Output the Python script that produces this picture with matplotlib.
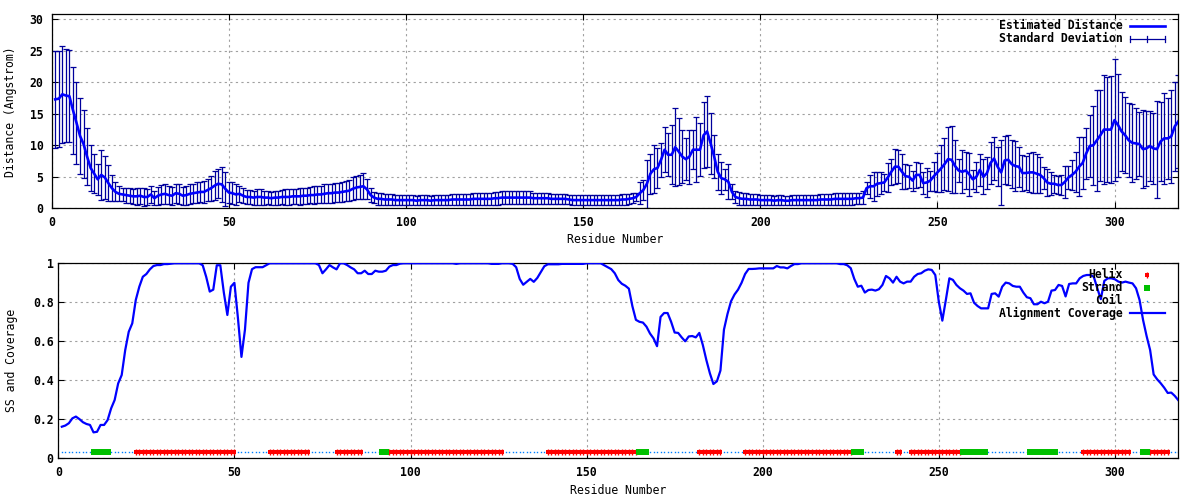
import numpy as np
import matplotlib
matplotlib.use("Agg")
import matplotlib.pyplot as plt

plt.rcParams['font.family'] = ['DejaVu Sans Mono']
plt.rcParams['font.weight'] = 'bold'
plt.rcParams['font.size'] = 8.3

# ---------------- data ----------------
distance_mean = [
    17.3, 17.4, 18.1, 17.9, 17.8, 15.6, 13.6, 11.5, 10.2, 8.2,
    6.4, 5.5, 4.6, 5.3, 4.9, 4.0, 3.2, 2.6, 2.3, 2.2,
    2.1, 2.0, 1.9, 1.9, 2.0, 1.8, 1.8, 2.2, 1.6, 2.0,
    2.2, 2.3, 2.1, 2.0, 2.4, 2.3, 2.0, 2.1, 2.3, 2.4,
    2.5, 2.6, 2.6, 2.9, 3.2, 3.6, 3.9, 3.8, 3.1, 2.5,
    2.4, 2.2, 2.3, 2.0, 1.8, 1.8, 1.7, 1.8, 1.8, 1.7,
    1.7, 1.6, 1.7, 1.7, 1.8, 1.8, 1.8, 1.9, 1.9, 1.9,
    2.0, 2.0, 2.1, 2.1, 2.2, 2.2, 2.3, 2.4, 2.4, 2.5,
    2.5, 2.6, 2.7, 2.8, 3.1, 3.3, 3.4, 3.5, 3.0, 2.1,
    1.7, 1.5, 1.5, 1.4, 1.4, 1.4, 1.3, 1.3, 1.3, 1.3,
    1.3, 1.3, 1.2, 1.3, 1.3, 1.3, 1.2, 1.3, 1.3, 1.3,
    1.3, 1.3, 1.4, 1.4, 1.4, 1.4, 1.4, 1.4, 1.5, 1.5,
    1.5, 1.5, 1.5, 1.5, 1.6, 1.6, 1.7, 1.7, 1.7, 1.7,
    1.7, 1.7, 1.7, 1.7, 1.7, 1.6, 1.6, 1.6, 1.6, 1.6,
    1.5, 1.5, 1.5, 1.5, 1.5, 1.4, 1.3, 1.3, 1.3, 1.3,
    1.3, 1.3, 1.3, 1.3, 1.3, 1.3, 1.3, 1.3, 1.3, 1.3,
    1.4, 1.4, 1.5, 1.6, 1.8, 2.4, 2.9, 3.9, 5.5, 6.2,
    6.4, 7.7, 9.3, 8.5, 8.5, 9.7, 9.0, 8.2, 7.8, 8.2,
    9.3, 9.3, 9.3, 11.6, 12.2, 10.3, 8.2, 5.8, 4.8, 4.6,
    4.2, 2.6, 1.8, 1.6, 1.5, 1.5, 1.4, 1.4, 1.4, 1.3,
    1.3, 1.3, 1.3, 1.2, 1.3, 1.3, 1.2, 1.2, 1.3, 1.3,
    1.3, 1.3, 1.3, 1.3, 1.3, 1.3, 1.4, 1.4, 1.4, 1.4,
    1.5, 1.5, 1.5, 1.5, 1.5, 1.5, 1.6, 1.6, 1.7, 3.2,
    3.5, 3.5, 3.9, 4.0, 4.1, 4.9, 5.8, 6.6, 6.6, 5.8,
    5.1, 5.0, 4.4, 5.3, 5.3, 4.0, 4.1, 4.4, 5.1, 5.7,
    6.3, 7.0, 7.8, 7.7, 6.7, 6.0, 5.8, 6.0, 5.4, 4.6,
    5.0, 6.1, 5.0, 5.6, 7.2, 7.9, 6.6, 5.7, 7.6, 7.7,
    7.0, 6.7, 6.6, 5.6, 5.6, 5.7, 5.7, 5.5, 5.3, 4.8,
    4.1, 3.9, 3.9, 3.7, 3.7, 4.2, 4.9, 5.3, 5.8, 6.6,
    7.2, 8.7, 9.9, 10.0, 10.8, 11.6, 12.5, 12.5, 12.5, 14.0,
    13.2, 12.2, 11.6, 10.8, 10.4, 10.3, 10.2, 9.4, 9.5, 9.9,
    9.5, 9.4, 10.6, 11.1, 11.1, 11.4, 13.0, 13.8,
]

distance_std = [
    7.7, 7.6, 7.7, 7.4, 7.3, 6.9, 6.5, 6.0, 5.4, 4.5,
    3.7, 3.1, 2.5, 4.0, 3.4, 2.9, 2.1, 1.5, 1.2, 1.1,
    1.2, 1.2, 1.2, 1.3, 1.3, 1.4, 1.3, 1.3, 1.1, 1.4,
    1.5, 1.6, 1.4, 1.4, 1.5, 1.6, 1.4, 1.5, 1.6, 1.5,
    1.6, 1.6, 1.7, 1.8, 2.0, 2.3, 2.3, 2.8, 2.7, 1.6,
    1.7, 1.6, 1.3, 1.2, 1.1, 1.1, 1.1, 1.2, 1.2, 1.1,
    1.0, 1.0, 1.1, 1.1, 1.1, 1.2, 1.2, 1.2, 1.2, 1.3,
    1.3, 1.3, 1.3, 1.4, 1.4, 1.4, 1.5, 1.5, 1.5, 1.5,
    1.5, 1.6, 1.6, 1.7, 1.8, 1.9, 1.9, 2.1, 1.6, 1.1,
    0.9, 0.9, 0.9, 0.85, 0.85, 0.8, 0.8, 0.8, 0.8, 0.8,
    0.75, 0.75, 0.7, 0.75, 0.75, 0.75, 0.7, 0.75, 0.75, 0.75,
    0.75, 0.75, 0.8, 0.8, 0.8, 0.8, 0.85, 0.85, 0.9, 0.9,
    0.9, 0.9, 0.9, 0.9, 1.0, 1.0, 1.0, 1.0, 1.0, 1.0,
    1.0, 1.0, 1.0, 1.0, 1.0, 0.9, 0.9, 0.9, 0.9, 0.9,
    0.8, 0.8, 0.8, 0.8, 0.8, 0.75, 0.75, 0.75, 0.75, 0.75,
    0.75, 0.75, 0.75, 0.75, 0.75, 0.75, 0.75, 0.75, 0.75, 0.75,
    0.8, 0.8, 0.8, 0.8, 0.7, 1.7, 1.6, 3.8, 3.2, 3.8,
    3.1, 2.7, 3.6, 3.4, 4.7, 6.2, 5.3, 4.2, 3.3, 4.3,
    3.1, 5.2, 4.2, 5.2, 5.7, 4.8, 3.4, 2.9, 2.6, 1.7,
    2.8, 1.2, 0.9, 1.0, 0.9, 0.9, 0.9, 0.85, 0.85, 0.8,
    0.8, 0.8, 0.8, 0.75, 0.8, 0.8, 0.75, 0.75, 0.8, 0.8,
    0.8, 0.8, 0.8, 0.8, 0.8, 0.8, 0.85, 0.85, 0.85, 0.85,
    0.9, 0.9, 0.9, 0.9, 0.9, 0.9, 0.9, 0.9, 1.0, 1.0,
    1.8, 2.3, 1.9, 1.8, 1.3, 2.3, 2.1, 2.8, 2.6, 2.8,
    2.0, 1.8, 1.6, 2.1, 1.9, 1.7, 2.3, 1.6, 2.3, 3.1,
    3.7, 4.1, 5.1, 5.3, 4.2, 1.9, 3.4, 3.0, 3.4, 1.5,
    2.4, 2.6, 2.8, 2.5, 3.4, 3.4, 3.1, 5.1, 3.8, 4.0,
    3.8, 4.0, 3.2, 2.9, 2.7, 3.1, 3.3, 3.1, 2.8, 1.8,
    2.2, 1.8, 1.4, 1.4, 1.6, 2.5, 1.8, 2.4, 3.2, 4.7,
    4.1, 4.0, 4.9, 6.3, 8.0, 7.2, 8.7, 8.4, 8.5, 9.7,
    8.2, 6.3, 6.0, 5.9, 6.2, 5.7, 5.1, 6.2, 6.0, 5.6,
    5.6, 7.7, 6.3, 7.2, 6.4, 7.4, 7.1, 7.4,
]

coverage = [
    0.162, 0.168, 0.180, 0.205, 0.214, 0.201, 0.185, 0.176, 0.171, 0.133,
    0.136, 0.171, 0.171, 0.196, 0.256, 0.299, 0.384, 0.427, 0.555, 0.649,
    0.692, 0.812, 0.880, 0.931, 0.945, 0.969, 0.986, 0.991, 0.991, 0.996,
    0.996, 0.998, 1.0, 1.0, 1.0, 1.0, 1.0, 1.0, 1.0, 1.0,
    0.99, 0.93, 0.855, 0.865, 0.99, 0.99, 0.85, 0.735, 0.88, 0.90,
    0.72, 0.52, 0.66, 0.90, 0.97, 0.98, 0.98, 0.98, 0.99, 1.0,
    1.0, 1.0, 1.0, 1.0, 1.0, 1.0, 1.0, 1.0, 1.0, 1.0,
    1.0, 1.0, 1.0, 0.991, 0.949, 0.969, 0.991, 0.979, 0.969, 1.0,
    1.0, 0.991, 0.979, 0.969, 0.949, 0.949, 0.962, 0.945, 0.945, 0.962,
    0.957, 0.957, 0.962, 0.983, 0.991, 0.991, 0.998, 1.0, 1.0, 1.0,
    1.0, 1.0, 1.0, 1.0, 1.0, 1.0, 1.0, 1.0, 1.0, 1.0,
    1.0, 1.0, 0.997, 1.0, 1.0, 1.0, 1.0, 1.0, 1.0, 1.0,
    1.0, 1.0, 0.997, 0.997, 0.997, 1.0, 1.0, 1.0, 0.997, 0.98,
    0.92, 0.89, 0.905, 0.92, 0.905, 0.925, 0.955, 0.985, 0.995, 0.995,
    0.995, 0.995, 0.997, 0.997, 0.997, 0.997, 0.997, 0.997, 0.997, 1.0,
    1.0, 1.0, 1.0, 1.0, 0.99, 0.98, 0.97, 0.949, 0.914, 0.895,
    0.885, 0.870, 0.78, 0.71, 0.70, 0.696, 0.675, 0.64, 0.615, 0.575,
    0.725, 0.745, 0.745, 0.70, 0.645, 0.643, 0.620, 0.600, 0.625, 0.627,
    0.62, 0.643, 0.581, 0.504, 0.436, 0.381, 0.395, 0.45, 0.66, 0.74,
    0.805, 0.84, 0.865, 0.90, 0.945, 0.971, 0.971, 0.972, 0.974, 0.974,
    0.974, 0.974, 0.974, 0.986, 0.979, 0.979, 0.974, 0.986, 0.996, 0.996,
    1.0, 1.0, 1.0, 1.0, 1.0, 1.0, 1.0, 1.0, 1.0, 1.0,
    1.0, 0.996, 0.996, 0.99, 0.975, 0.92, 0.88, 0.885, 0.85, 0.863,
    0.865, 0.86, 0.867, 0.889, 0.935, 0.923, 0.901, 0.931, 0.906, 0.897,
    0.906, 0.906, 0.931, 0.945, 0.949, 0.962, 0.969, 0.966, 0.940, 0.803,
    0.706, 0.812, 0.923, 0.915, 0.889, 0.872, 0.860, 0.843, 0.846, 0.798,
    0.781, 0.769, 0.769, 0.769, 0.843, 0.846, 0.829, 0.880, 0.901, 0.897,
    0.884, 0.880, 0.880, 0.850, 0.826, 0.821, 0.790, 0.790, 0.803, 0.795,
    0.803, 0.860, 0.863, 0.889, 0.884, 0.83, 0.894, 0.897, 0.897, 0.923,
    0.935, 0.940, 0.940, 0.931, 0.872, 0.816, 0.910, 0.923, 0.923, 0.918,
    0.906, 0.901, 0.906, 0.901, 0.897, 0.872, 0.812, 0.709, 0.627, 0.555,
    0.43, 0.405, 0.385, 0.362, 0.335, 0.337, 0.320, 0.298,
]

# secondary structure segments: (type, first residue, last residue)
ss_segments = [
    ("E", 10, 14), ("H", 22, 50), ("H", 60, 71), ("H", 79, 86),
    ("E", 92, 93), ("H", 94, 126), ("H", 139, 164), ("E", 165, 167),
    ("H", 182, 188), ("H", 195, 225), ("E", 226, 228), ("H", 238, 239),
    ("H", 242, 256), ("E", 257, 263), ("E", 276, 283), ("H", 291, 304),
    ("E", 308, 309), ("H", 310, 315),
]
ss_level = 0.03

x_ticks = [0, 50, 100, 150, 200, 250, 300]
top_yticks = [0, 5, 10, 15, 20, 25, 30]
bot_yticks = [0, 0.2, 0.4, 0.6, 0.8, 1.0]
bot_ytick_labels = ["0", "0.2", "0.4", "0.6", "0.8", "1"]

assert len(distance_mean) == len(distance_std) == len(coverage)
n_res = len(coverage)
residues = np.arange(1, n_res + 1)

# ---------------- figure ----------------
BLUE = '#0000ff'
NAVY = '#00009c'
RED = '#ff0000'
GREEN = '#00c000'
COIL = '#0080ff'
GRID = '#a0a0a0'

fig = plt.figure(figsize=(12, 5), dpi=100)
ax1 = fig.add_axes([51.67 / 1200, 1 - 208.3 / 500, (1178.3 - 51.67) / 1200, 194 / 500])
ax2 = fig.add_axes([58.3 / 1200, 1 - 458.3 / 500, (1178.3 - 58.3) / 1200, 195 / 500])


def style(ax, ypad):
    ax.grid(True, color=GRID, linestyle=(0, (2, 3)), linewidth=0.8)
    ax.set_axisbelow(True)
    for s in ax.spines.values():
        s.set_linewidth(0.9)
        s.set_color('black')
    ax.tick_params(direction='in', length=4, width=0.8, top=True, right=True,
                   colors='black')
    ax.tick_params(axis='x', pad=5.5)
    ax.tick_params(axis='y', pad=ypad)
    ax.set_xticks(x_ticks)
    ax.set_xlim(0, 318)


# ---- top: distances ----
ax1.errorbar(residues, distance_mean, yerr=distance_std, fmt='none',
             ecolor=NAVY, elinewidth=0.9, capsize=2.2, capthick=0.9, zorder=2)
ax1.plot(residues, distance_mean, color=BLUE, lw=1.9, zorder=3)
style(ax1, 6)
ax1.set_ylim(0, 30.8)
ax1.set_yticks(top_yticks)
ax1.set_ylabel("Distance (Angstrom)")
ax1.yaxis.set_label_coords(-0.0361, 0.5)
ax1.set_xlabel("Residue Number")
ax1.xaxis.set_label_coords(0.5, -0.1634)
ax1.xaxis.label.set_va('center')
ax1.yaxis.label.set_va('center')

# legend (top)
tr = ax1.transAxes
ax1.text(0.9507, 0.941, "Estimated Distance", transform=tr, ha='right', va='center')
ax1.plot([0.957, 0.988], [0.941, 0.941], transform=tr, color=BLUE, lw=1.9, clip_on=False)
ax1.text(0.9507, 0.873, "Standard Deviation", transform=tr, ha='right', va='center')
ax1.plot([0.957, 0.988], [0.873, 0.873], transform=tr, color=NAVY, lw=0.9, clip_on=False)
for xx in (0.957, 0.9725, 0.988):
    ax1.plot([xx, xx], [0.873 - 0.016, 0.873 + 0.016], transform=tr, color=NAVY,
             lw=0.9, clip_on=False)

# ---- bottom: SS and coverage ----
ss_types = {}
for t, a, b in ss_segments:
    for r in range(a, b + 1):
        ss_types[r] = t
helix_res = [r for r in residues if ss_types.get(r) == "H"]
strand_res = [r for r in residues if ss_types.get(r) == "E"]
coil_res = [r for r in residues if r not in ss_types]

ax2.plot(coil_res, [ss_level] * len(coil_res), linestyle='none', marker='s',
         markersize=1.0, color=COIL, markeredgewidth=0, zorder=2)
ax2.plot(helix_res, [ss_level] * len(helix_res), linestyle='none', marker='s',
         markersize=3.3, color=RED, markeredgewidth=0, zorder=3)
ax2.plot(helix_res, [ss_level] * len(helix_res), linestyle='none', marker='|',
         markersize=4.2, color=RED, markeredgewidth=1.0, zorder=3)
ax2.plot(strand_res, [ss_level] * len(strand_res), linestyle='none', marker='s',
         markersize=5.0, color=GREEN, markeredgewidth=0, zorder=4)
ax2.plot(residues, coverage, color=BLUE, lw=1.6, zorder=5)

style(ax2, 3.5)
ax2.set_ylim(0, 1)
ax2.set_yticks(bot_yticks)
ax2.set_yticklabels(bot_ytick_labels)
ax2.set_ylabel("SS and Coverage")
ax2.yaxis.set_label_coords(-0.0422, 0.5)
ax2.yaxis.label.set_va('center')
ax2.set_xlabel("Residue Number")
ax2.xaxis.set_label_coords(0.5, -0.166)
ax2.xaxis.label.set_va('center')

tr2 = ax2.transAxes
rows = [0.940, 0.875, 0.808, 0.743]
ax2.text(0.9504, rows[0], "Helix", transform=tr2, ha='right', va='center', zorder=6)
ax2.plot([0.9723], [rows[0]], transform=tr2, marker='s', markersize=3.3, color=RED,
         markeredgewidth=0, clip_on=False)
ax2.plot([0.9723], [rows[0]], transform=tr2, marker='|', markersize=4.2, color=RED,
         markeredgewidth=1.0, clip_on=False)
ax2.text(0.9504, rows[1], "Strand", transform=tr2, ha='right', va='center', zorder=6)
ax2.plot([0.9723], [rows[1]], transform=tr2, marker='s', markersize=5.0, color=GREEN,
         markeredgewidth=0, clip_on=False)
ax2.text(0.9504, rows[2], "Coil", transform=tr2, ha='right', va='center', zorder=6)
ax2.plot([0.9723], [rows[2]], transform=tr2, marker='s', markersize=1.0, color=COIL,
         markeredgewidth=0, clip_on=False)
ax2.text(0.9504, rows[3], "Alignment Coverage", transform=tr2, ha='right', va='center', zorder=6)
ax2.plot([0.957, 0.988], [rows[3], rows[3]], transform=tr2, color=BLUE, lw=1.6, clip_on=False)

fig.savefig("out.png", dpi=100)
